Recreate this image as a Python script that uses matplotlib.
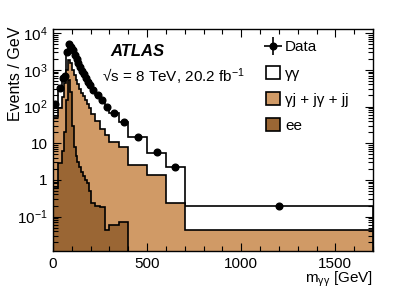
import numpy as np
import matplotlib
matplotlib.use('Agg')
import matplotlib.pyplot as plt
from matplotlib.lines import Line2D
from matplotlib.patches import Patch
from matplotlib.ticker import FixedLocator, FixedFormatter, NullFormatter, LogLocator, MultipleLocator

plt.rcParams['font.family'] = ['Liberation Sans', 'DejaVu Sans']
plt.rcParams['mathtext.fontset'] = 'custom'
plt.rcParams['mathtext.rm'] = 'Liberation Sans'
plt.rcParams['mathtext.it'] = 'Liberation Sans:italic'
plt.rcParams['mathtext.bf'] = 'Liberation Sans:bold'

# bin edges in m_yy [GeV]
edges = [0, 25, 50, 60, 70, 80, 90, 100, 110, 120, 130, 140, 150, 160, 170,
         180, 190, 200, 225, 250, 275, 300, 350, 400, 500, 600, 700, 1700]

# events / GeV
data = [120, 320, 600, 680, 3000, 5200, 4300, 3400, 2600, 2000, 1550, 1200,
        950, 760, 600, 480, 390, 285, 200, 150, 100, 65, 37, 14.5, 5.6, 2.2, 0.19]
ee = [0.6, 2.8, 6, 20, 150, 530, 250, 30, 8, 4.5, 3, 2.2, 1.6, 1.3, 1.0,
      0.8, 0.5, 0.23, 0.2, 0.18, 0.042, 0.058, 0.072, 0, 0, 0, 0]
jets = [51, 87, 174, 430, 850, 1270, 1250, 970, 712, 515, 397, 298, 238, 189,
        149, 114, 89.5, 61.8, 39.8, 24.8, 17, 11, 7.9, 2.5, 1.37, 0.24, 0.042]
gg = [68, 230, 420, 230, 2000, 3400, 2800, 2400, 1880, 1480, 1150, 900, 710,
      570, 450, 365, 300, 223, 160, 125, 83, 54, 29, 12, 4.2, 1.95, 0.15]

ytick_vals = [0.1, 1, 10, 100, 1000, 10000]
ytick_labels = [r'$10^{-1}$', '1', '10', r'$10^{2}$', r'$10^{3}$', r'$10^{4}$']

c_jets = '#d09a66'
c_ee = '#9a6634'
floor = 1e-3

edges = np.array(edges)
ee = np.array(ee)
stack1 = ee + np.array(jets)
stack2 = stack1 + np.array(gg)
centers = 0.5 * (edges[:-1] + edges[1:])

fig = plt.figure(figsize=(4.15, 2.9), dpi=100)
ax = fig.add_axes([53/415, 1 - 251/290, 320/415, 222/290])

ax.stairs(stack2, edges, baseline=floor, fill=True, facecolor='white',
          edgecolor='black', lw=1.2)
ax.stairs(stack1, edges, baseline=floor, fill=True, facecolor=c_jets,
          edgecolor='black', lw=1.2)
ax.stairs(np.where(ee > 0, ee, floor), edges, baseline=floor, fill=True,
          facecolor=c_ee, edgecolor='black', lw=1.2)
ax.plot(centers, data, 'o', color='black', ms=4.8, zorder=5)

ax.set_yscale('log')
ax.set_xlim(0, 1700)
ax.set_ylim(0.0115, 1.3e4)

ax.xaxis.set_major_locator(FixedLocator([0, 500, 1000, 1500]))
ax.xaxis.set_minor_locator(MultipleLocator(100))
ax.yaxis.set_major_locator(FixedLocator(ytick_vals))
ax.yaxis.set_major_formatter(FixedFormatter(ytick_labels))
ax.yaxis.set_minor_locator(LogLocator(base=10, subs=np.arange(2, 10), numticks=20))
ax.yaxis.set_minor_formatter(NullFormatter())
ax.tick_params(which='both', direction='in', top=True, right=True, labelsize=11)
ax.tick_params(which='major', length=6, width=0.8)
ax.tick_params(which='minor', length=3.5, width=0.8)
ax.tick_params(axis='y', pad=4)
ax.tick_params(axis='x', pad=4)
for s in ax.spines.values():
    s.set_linewidth(1.0)

fig.text(15/415, 1 - 27/290, 'Events / GeV', rotation=90, fontsize=11.5,
         ha='center', va='top')
ax.set_xlabel(r'm$_{\mathregular{γγ}}$ [GeV]', fontsize=11, ha='right', x=1.0)
ax.xaxis.set_label_coords(1.0, -0.085)

ax.text(0.178, 0.898, 'ATLAS', transform=ax.transAxes, fontsize=12,
        fontweight='bold', style='italic', va='center')
ax.text(0.152, 0.785, r'√s = 8 TeV, 20.2 fb$^{-1}$', transform=ax.transAxes,
        fontsize=11, va='center')

h_data = (Line2D([], [], marker='o', color='black', ms=4.8, ls='none'),
          Line2D([], [], marker='+', color='black', ms=13, mew=1.2, ls='none'))
handles = [h_data,
           Patch(facecolor='white', edgecolor='black', lw=1.2),
           Patch(facecolor=c_jets, edgecolor='black', lw=1.2),
           Patch(facecolor=c_ee, edgecolor='black', lw=1.2)]
labels = ['Data', 'γγ', 'γj + jγ + jj', 'ee']
ax.legend(handles, labels, loc='upper left', bbox_to_anchor=(0.665, 0.952),
          frameon=False, fontsize=11, borderpad=0, borderaxespad=0,
          handlelength=0.95, handleheight=0.95, handletextpad=0.3,
          labelspacing=0.74)

fig.savefig('out.png', dpi=100)
